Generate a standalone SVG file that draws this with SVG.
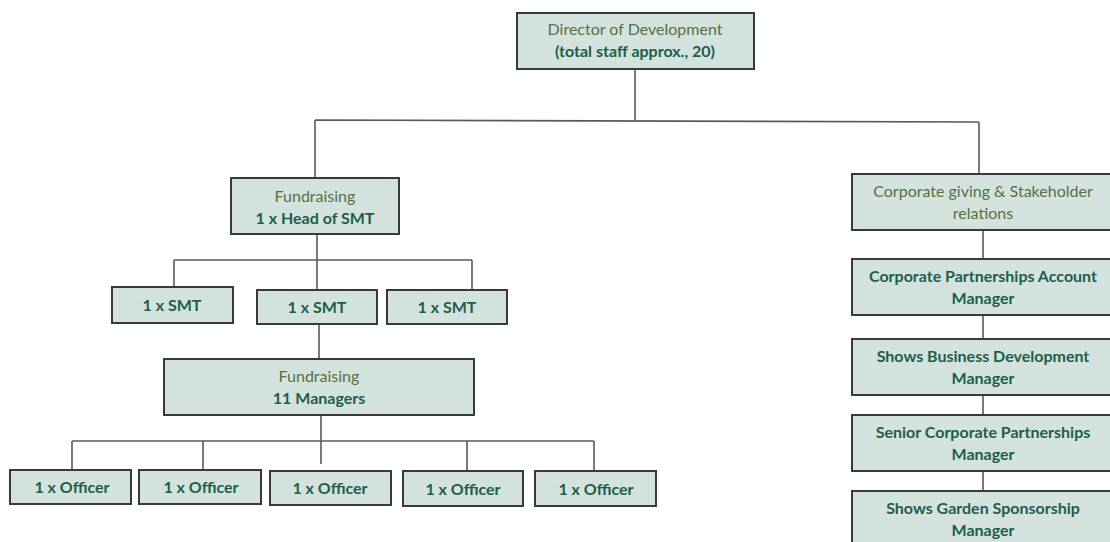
<svg xmlns="http://www.w3.org/2000/svg" width="1110" height="542" viewBox="0 0 1110 542">
<style>
.box{fill:#d4e2de;stroke:#3a3a3a;stroke-width:2}
.ln{stroke:#5a5a5a;stroke-width:1.6;fill:none}
text{font-family:Lato,"Open Sans","Liberation Sans",sans-serif;font-size:16px;text-anchor:middle}
.r{fill:#577042}
.b{fill:#1d5e4a;font-weight:bold}
</style>
<rect width="1110" height="542" fill="#ffffff"/>
<g id="connectors">
<path class="ln" d="M635 69V121M315 120L979 122M315 120V179M979 122V174"/>
<path class="ln" d="M317 234V290M174 260H472M174 260V287M472 260V290M319 324V359"/>
<path class="ln" d="M321 415V464M72 441H594M72 441V470M203 441V470M467 441V471M594 441V471"/>
<path class="ln" d="M983 230V259M983 315V339M983 395V415M983 471V491"/>
</g>
<g id="director"><rect class="box" x="517" y="13" width="237" height="56"/><text class="r" x="635" y="35">Director of Development</text><text class="b" x="635" y="57">(total staff approx., 20)</text></g>
<g id="fundraising-head"><rect class="box" x="231" y="178" width="168" height="56"/><text class="r" x="315" y="202">Fundraising</text><text class="b" x="315" y="224">1 x Head of SMT</text></g>
<g id="smt1"><rect class="box" x="112" y="287" width="121" height="36"/><text class="b" x="172" y="311">1 x SMT</text></g>
<g id="smt2"><rect class="box" x="257" y="290" width="120" height="34"/><text class="b" x="317" y="313">1 x SMT</text></g>
<g id="smt3"><rect class="box" x="387" y="290" width="120" height="34"/><text class="b" x="447" y="313">1 x SMT</text></g>
<g id="managers"><rect class="box" x="164" y="359" width="310" height="56"/><text class="r" x="319" y="382">Fundraising</text><text class="b" x="319" y="404">11 Managers</text></g>
<g id="officer1"><rect class="box" x="10" y="470" width="121" height="34"/><text class="b" x="72" y="493">1 x Officer</text></g>
<g id="officer2"><rect class="box" x="139" y="470" width="122" height="34"/><text class="b" x="201" y="493">1 x Officer</text></g>
<g id="officer3"><rect class="box" x="270" y="471" width="121" height="34"/><text class="b" x="330" y="494">1 x Officer</text></g>
<g id="officer4"><rect class="box" x="403" y="471" width="120" height="35"/><text class="b" x="463" y="495">1 x Officer</text></g>
<g id="officer5"><rect class="box" x="535" y="471" width="121" height="35"/><text class="b" x="596" y="495">1 x Officer</text></g>
<g id="corporate-giving"><rect class="box" x="852" y="174" width="262" height="56"/><text class="r" x="983" y="197">Corporate giving &amp; Stakeholder</text><text class="r" x="983" y="219">relations</text></g>
<g id="cpam"><rect class="box" x="852" y="259" width="262" height="56"/><text class="b" x="983" y="282">Corporate Partnerships Account</text><text class="b" x="983" y="304">Manager</text></g>
<g id="sbdm"><rect class="box" x="852" y="339" width="262" height="56"/><text class="b" x="983" y="362">Shows Business Development</text><text class="b" x="983" y="384">Manager</text></g>
<g id="scpm"><rect class="box" x="852" y="415" width="262" height="56"/><text class="b" x="983" y="438">Senior Corporate Partnerships</text><text class="b" x="983" y="460">Manager</text></g>
<g id="sgsm"><rect class="box" x="852" y="491" width="262" height="56"/><text class="b" x="983" y="514">Shows Garden Sponsorship</text><text class="b" x="983" y="536">Manager</text></g>
</svg>
